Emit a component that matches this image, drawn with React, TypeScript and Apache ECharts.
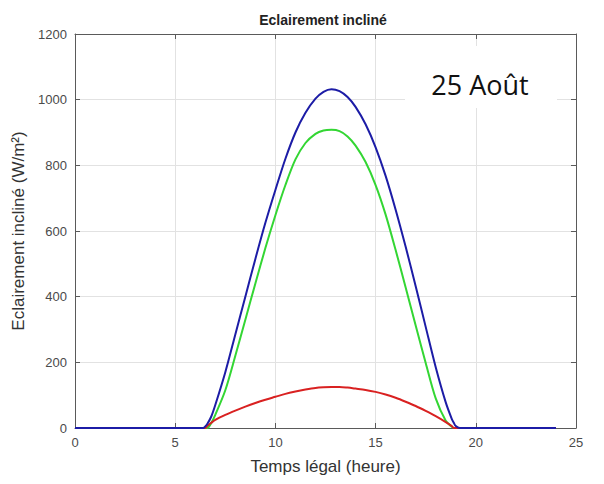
import React, { useEffect, useRef } from "react";
import * as echarts from "echarts";

const hours = [0, 6.4, 6.5, 6.6, 6.8, 7.0, 7.5, 8.0, 8.5, 9.0, 9.5, 10.0, 10.5, 11.0, 11.5, 12.0, 12.4, 12.8, 13.2, 13.6, 14.0, 14.5, 15.0, 15.5, 16.0, 16.5, 17.0, 17.5, 18.0, 18.5, 18.8, 18.9, 19.0, 19.2, 24];
const blueValues = [0, 0, 5, 12, 35, 70, 170, 285, 400, 515, 625, 725, 820, 900, 960, 1003, 1024, 1032, 1026, 1008, 978, 925, 855, 768, 665, 552, 432, 308, 185, 78, 28, 16, 6, 0, 0];
const greenValues = [0, 0, 0, 0, 15, 40, 115, 220, 330, 440, 548, 648, 740, 818, 868, 896, 906, 908, 904, 888, 860, 810, 740, 650, 542, 428, 312, 198, 90, 22, 4, 0, 0, 0, 0];
const redValues = [0, 0, 0, 6, 16, 25, 40, 53, 65, 76, 86, 95, 104, 111, 117, 122, 124, 125, 125, 123, 120, 116, 110, 102, 92, 80, 67, 52, 36, 18, 6, 0, 0, 0, 0];

const title = "Eclairement incliné";
const xName = "Temps légal (heure)";
const yName = "Eclairement incliné (W/m²)";
const annotation = "25 Août";

const pairs = (vals: number[]) => hours.map((h, i) => [h, vals[i]]);

export default function App() {
  const ref = useRef<HTMLDivElement>(null);
  useEffect(() => {
    if (!ref.current) return;
    const chart = echarts.init(ref.current, null, { renderer: "svg" });
    const axisColor = "#5a5a5a";
    const labelColor = "#4a4a4a";
    const font = "Liberation Sans, Arial, sans-serif";
    const lineSeries = (name: string, vals: number[], color: string, z: number) => ({
      name,
      type: "line",
      data: pairs(vals),
      showSymbol: false,
      smooth: 0.3,
      lineStyle: { color, width: 2 },
      itemStyle: { color },
      z,
    });
    chart.setOption({
      animation: false,
      backgroundColor: "#ffffff",
      title: {
        text: title,
        left: 318,
        top: 8,
        textAlign: "center",
        textStyle: { fontFamily: font, fontSize: 14, fontWeight: "bold", color: "#222222" },
      },
      grid: { left: 75, right: 28, top: 34, bottom: 56, containLabel: false },
      xAxis: [
        {
          type: "value",
          min: 0,
          max: 25,
          interval: 5,
          name: xName,
          nameLocation: "middle",
          nameGap: 30,
          nameTextStyle: { fontFamily: font, fontSize: 17, color: "#333333" },
          axisLine: { show: true, onZero: false, lineStyle: { color: axisColor, width: 1 } },
          axisTick: { show: true, inside: true, length: 5, lineStyle: { color: axisColor } },
          axisLabel: { fontFamily: font, fontSize: 13, color: labelColor, margin: 8 },
          splitLine: { show: true, lineStyle: { color: "#e2e2e2", width: 1 } },
        },
        {
          type: "value",
          position: "top",
          min: 0,
          max: 25,
          interval: 5,
          axisLine: { show: true, onZero: false, lineStyle: { color: axisColor, width: 1 } },
          axisTick: { show: true, inside: true, length: 5, lineStyle: { color: axisColor } },
          axisLabel: { show: false },
          splitLine: { show: false },
        },
      ],
      yAxis: [
        {
          type: "value",
          min: 0,
          max: 1200,
          interval: 200,
          name: yName,
          nameLocation: "middle",
          nameGap: 40,
          nameRotate: 90,
          nameTextStyle: { fontFamily: font, fontSize: 17, color: "#333333" },
          axisLine: { show: true, onZero: false, lineStyle: { color: axisColor, width: 1 } },
          axisTick: { show: true, inside: true, length: 5, lineStyle: { color: axisColor } },
          axisLabel: {
            fontFamily: font,
            fontSize: 13,
            color: labelColor,
            margin: 8,
            formatter: (v: number) => String(v),
          },
          splitLine: { show: true, lineStyle: { color: "#e2e2e2", width: 1 } },
        },
        {
          type: "value",
          position: "right",
          min: 0,
          max: 1200,
          interval: 200,
          axisLine: { show: true, onZero: false, lineStyle: { color: axisColor, width: 1 } },
          axisTick: { show: true, inside: true, length: 5, lineStyle: { color: axisColor } },
          axisLabel: { show: false },
          splitLine: { show: false },
        },
      ],
      series: [
        lineSeries("Vert", greenValues, "#33d633", 3),
        lineSeries("Rouge", redValues, "#d92121", 4),
        lineSeries("Bleu", blueValues, "#1c1ca6", 5),
      ],
      graphic: [
        {
          type: "rect",
          shape: { x: 405, y: 46, width: 152, height: 62 },
          style: { fill: "#ffffff" },
          z: 100,
        },
        {
          type: "text",
          x: 480,
          y: 84,
          style: {
            text: annotation,
            fontFamily: "Open Sans, Lato, sans-serif",
            fontSize: 27,
            fill: "#111111",
            textAlign: "center",
            textVerticalAlign: "middle",
          },
          z: 101,
        },
      ],
    });
    return () => chart.dispose();
  }, []);
  return <div ref={ref} style={{ position: "fixed", left: 0, top: 0, width: 604, height: 484 }} />;
}
